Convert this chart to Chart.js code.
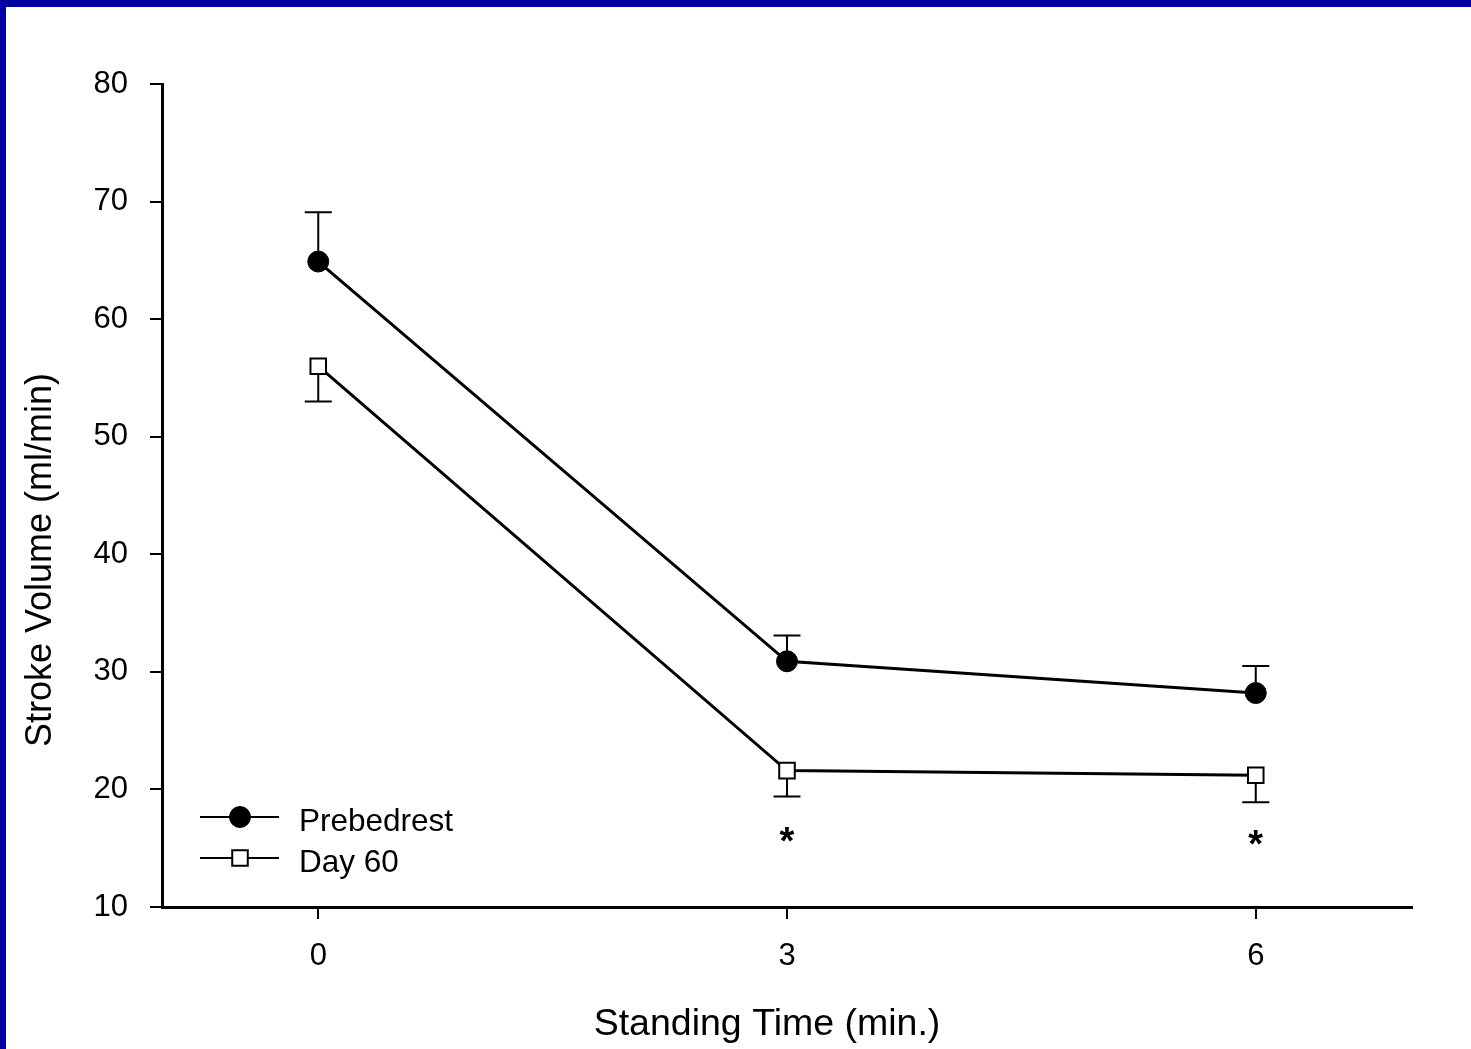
<!DOCTYPE html>
<html>
<head>
<meta charset="utf-8">
<script src="https://cdn.jsdelivr.net/npm/chart.js@4"></script>
<style>
  html, body { margin: 0; padding: 0; background: #fff; overflow: hidden; }
  #frameTop { position: absolute; left: 0; top: 0; width: 1471px; height: 7px; background: #0000a0; }
  #frameLeft { position: absolute; left: 0; top: 0; width: 6px; height: 1049px; background: #0000a0; }
  canvas { position: absolute; left: 0; top: 0; }
</style>
</head>
<body>
<canvas id="chart" width="1471" height="1049"></canvas>
<div id="frameTop"></div>
<div id="frameLeft"></div>
<script>
// data
const standingTime = [0, 3, 6];
const xTicks = [0, 3, 6];
const prebedrest = [64.9, 30.9, 28.2];
const prebedrestUpper = [69.1, 33.1, 30.5];   // top of SE bar
const day60 = [56.0, 21.6, 21.2];
const day60Lower = [53.0, 19.4, 18.9];        // bottom of SE bar
const sigX = [3, 6];
const sigY = [16.2, 15.9];
const seriesNames = ['Prebedrest', 'Day 60'];
const xTitle = 'Standing Time (min.)';
const yTitle = 'Stroke Volume (ml/min)';

const FONT = "'Liberation Sans', Arial, sans-serif";

const toPoints = (xs, ys) => xs.map((x, i) => ({ x: x, y: ys[i] }));

// error bars: prebedrest goes up, day 60 goes down
const errorBars = {
    id: 'errorBars',
    beforeDatasetsDraw(chart) {
        const ctx = chart.ctx;
        const xs = chart.scales.x, ys = chart.scales.y;
        const cap = 13.5;
        const draw = (vals, ends) => {
            vals.forEach((v, i) => {
                const px = xs.getPixelForValue(standingTime[i]);
                const p0 = ys.getPixelForValue(v);
                const p1 = ys.getPixelForValue(ends[i]);
                ctx.beginPath();
                ctx.moveTo(px, p0); ctx.lineTo(px, p1);
                ctx.moveTo(px - cap, p1); ctx.lineTo(px + cap, p1);
                ctx.stroke();
            });
        };
        ctx.save();
        ctx.strokeStyle = '#000';
        ctx.lineWidth = 2;
        draw(prebedrest, prebedrestUpper);
        draw(day60, day60Lower);
        ctx.restore();
    }
};

// asterisks, axis titles and the in-plot legend
const extras = {
    id: 'extras',
    afterDraw(chart) {
        const ctx = chart.ctx;
        const xs = chart.scales.x, ys = chart.scales.y;
        const area = chart.chartArea;
        ctx.save();
        ctx.fillStyle = '#000';

        // significance marks
        ctx.font = 'bold 38px ' + FONT;
        ctx.textAlign = 'left';
        ctx.textBaseline = 'alphabetic';
        sigX.forEach((x, i) => {
            const m = ctx.measureText('*');
            const cx = xs.getPixelForValue(x), cy = ys.getPixelForValue(sigY[i]);
            const w = m.actualBoundingBoxRight + m.actualBoundingBoxLeft;
            const bx = cx - w / 2 + m.actualBoundingBoxLeft;
            const by = cy + (m.actualBoundingBoxAscent - m.actualBoundingBoxDescent) / 2;
            ctx.fillText('*', bx, by);
        });

        // axis titles
        ctx.textAlign = 'center';
        ctx.font = '37.5px ' + FONT;
        ctx.fillText(xTitle, 767, 1035);
        ctx.font = '36px ' + FONT;
        ctx.save();
        ctx.translate(51, 560);
        ctx.rotate(-Math.PI / 2);
        ctx.fillText(yTitle, 0, 0);
        ctx.restore();

        // legend: line through marker, then label
        const lx0 = area.left + 38, lx1 = area.left + 117, mx = area.left + 78;
        const rows = [area.top + 733, area.top + 774];
        rows.forEach((y, i) => {
            const ds = chart.data.datasets[i];
            ctx.strokeStyle = '#000';
            ctx.lineWidth = 2;
            ctx.beginPath();
            ctx.moveTo(lx0, y); ctx.lineTo(lx1, y);
            ctx.stroke();
            ctx.fillStyle = ds.pointBackgroundColor;
            ctx.lineWidth = ds.pointBorderWidth;
            ctx.beginPath();
            if (ds.pointStyle === 'rect') {
                const s = ds.pointRadius * Math.SQRT1_2;
                ctx.rect(mx - s, y - s, 2 * s, 2 * s);
            } else {
                ctx.arc(mx, y, ds.pointRadius, 0, Math.PI * 2);
            }
            ctx.fill(); ctx.stroke();
            ctx.fillStyle = '#000';
            ctx.font = '31.5px ' + FONT;
            ctx.textAlign = 'left';
            ctx.fillText(seriesNames[i], area.left + 137, y + 14);
        });
        ctx.restore();
    }
};

const ctx = document.getElementById('chart').getContext('2d');
new Chart(ctx, {
    type: 'line',
    data: {
        datasets: [{
            label: seriesNames[0],
            data: toPoints(standingTime, prebedrest),
            borderColor: '#000',
            borderWidth: 3,
            pointStyle: 'circle',
            pointRadius: 10.5,
            pointBorderWidth: 1,
            pointBackgroundColor: '#000',
            pointBorderColor: '#000',
            tension: 0
        }, {
            label: seriesNames[1],
            data: toPoints(standingTime, day60),
            borderColor: '#000',
            borderWidth: 3,
            pointStyle: 'rect',
            pointRadius: 11,
            pointBorderWidth: 2,
            pointBackgroundColor: '#fff',
            pointBorderColor: '#000',
            tension: 0
        }]
    },
    options: {
        responsive: false,
        animation: false,
        devicePixelRatio: 1,
        layout: { padding: { left: 0, top: 84, right: 59, bottom: 0 } },
        plugins: { legend: { display: false }, tooltip: { enabled: false } },
        scales: {
            x: {
                type: 'linear',
                min: -1, max: 7,
                afterBuildTicks: (scale) => { scale.ticks = xTicks.map(v => ({ value: v })); },
                afterFit: (scale) => { scale.height = 142; },
                grid: { drawOnChartArea: false, color: '#000', lineWidth: 2, tickLength: 12 },
                border: { display: true, color: '#000', width: 3 },
                ticks: { color: '#000', padding: 19, font: { family: FONT, size: 31 } }
            },
            y: {
                min: 10, max: 80,
                afterFit: (scale) => { scale.width = 162; },
                grid: { drawOnChartArea: false, color: '#000', lineWidth: 2, tickLength: 12 },
                border: { display: true, color: '#000', width: 3 },
                ticks: { stepSize: 10, color: '#000', padding: 22, font: { family: FONT, size: 31 } }
            }
        }
    },
    plugins: [errorBars, extras]
});
</script>
</body>
</html>
